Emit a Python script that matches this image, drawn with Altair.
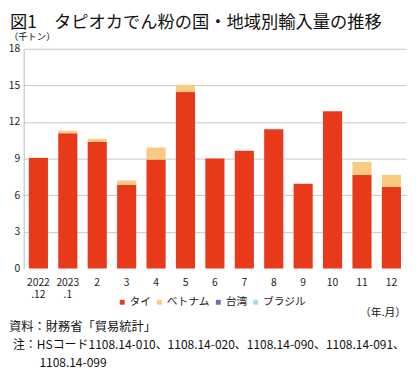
import altair as alt
import pandas as pd

months = ["2022|.12", "2023|.1", "2", "3", "4", "5", "6", "7", "8", "9", "10", "11", "12"]
countries = ["タイ", "ベトナム", "台湾", "ブラジル"]
thai = [9.05, 11.08, 10.36, 6.84, 8.92, 14.45, 9.00, 9.64, 11.40, 6.95, 12.88, 7.67, 6.70]
vietnam = [0.03, 0.20, 0.27, 0.37, 0.99, 0.60, 0.00, 0.00, 0.00, 0.00, 0.00, 1.06, 0.97]
taiwan = [0.00, 0.00, 0.00, 0.00, 0.00, 0.00, 0.00, 0.00, 0.00, 0.00, 0.00, 0.00, 0.00]
brazil = [0.00, 0.00, 0.00, 0.00, 0.00, 0.00, 0.00, 0.00, 0.00, 0.00, 0.00, 0.00, 0.00]
y_ticks = [0, 3, 6, 9, 12, 15, 18]
colors = ["#E83A1A", "#F8CA82", "#6B72B8", "#A6DCEB"]

FONT = "Noto Sans CJK JP"

rows = []
for series, name in zip([thai, vietnam, taiwan, brazil], countries):
    for m, v in zip(months, series):
        rows.append({"month": m, "country": name, "value": v, "order": countries.index(name)})
df = pd.DataFrame(rows)

bars = alt.Chart(df).mark_bar().encode(
    x=alt.X("month:N", sort=months,
            scale=alt.Scale(paddingInner=0.35, paddingOuter=0.175),
            axis=alt.Axis(title=None, labelExpr="split(datum.label, '|')", labelAngle=0,
                          labelFontSize=10.5, labelFont=FONT, labelColor="#222",
                          labelPadding=9, labelLineHeight=13, domain=False, ticks=False)),
    y=alt.Y("value:Q", stack="zero",
            scale=alt.Scale(domain=[0, 18], nice=False),
            axis=alt.Axis(title=None, values=y_ticks, labelFontSize=10.5, labelFont=FONT,
                          labelColor="#222", labelPadding=4, ticks=False,
                          domainColor="#bbbbbb", gridColor="#c8c8c8",
                          gridOpacity={"condition": {"test": "datum.value === 0", "value": 0}, "value": 1})),
    color=alt.Color("country:N", sort=countries,
                    scale=alt.Scale(domain=countries, range=colors),
                    legend=alt.Legend(title=None, orient="none", legendX=95, legendY=253,
                                      direction="horizontal", symbolType="square", symbolSize=25,
                                      labelFontSize=11, labelFont=FONT, labelColor="#222",
                                      columnPadding=3, labelOffset=2, symbolStrokeWidth=0,
                                      gridAlign="none", padding=0)),
    order=alt.Order("order:Q"),
)

one = pd.DataFrame({"a": [0]})

def txt(text, x, y, size, align="left"):
    return alt.Chart(one).mark_text(align=align, baseline="middle", fontSize=size,
                                    font=FONT, color="#111").encode(
        x=alt.value(x), y=alt.value(y), text=alt.value(text))

title = txt("図1　タピオカでん粉の国・地域別輸入量の推移", -14, -26, 17.6)
unit = txt("（千トン）", -15, -12, 9.5)
ym = txt("（年.月）", 390, 270, 11, "right")
src = txt("資料：財務省「貿易統計」", -15, 284, 12.5)
note1 = txt("注：HSコード1108.14-010、1108.14-020、1108.14-090、1108.14-091、", -11, 302, 12.2)
note2 = txt("1108.14-099", 16, 320.5, 12.2)

chart = alt.layer(bars, title, unit, ym, src, note1, note2).properties(
    width=390, height=224,
    autosize=alt.AutoSizeParams(type="none"),
    padding={"left": 16, "top": 38, "right": 6, "bottom": 102},
).configure_view(stroke=None)

chart.save("out.html", embed_options={"renderer": "svg", "actions": False})
